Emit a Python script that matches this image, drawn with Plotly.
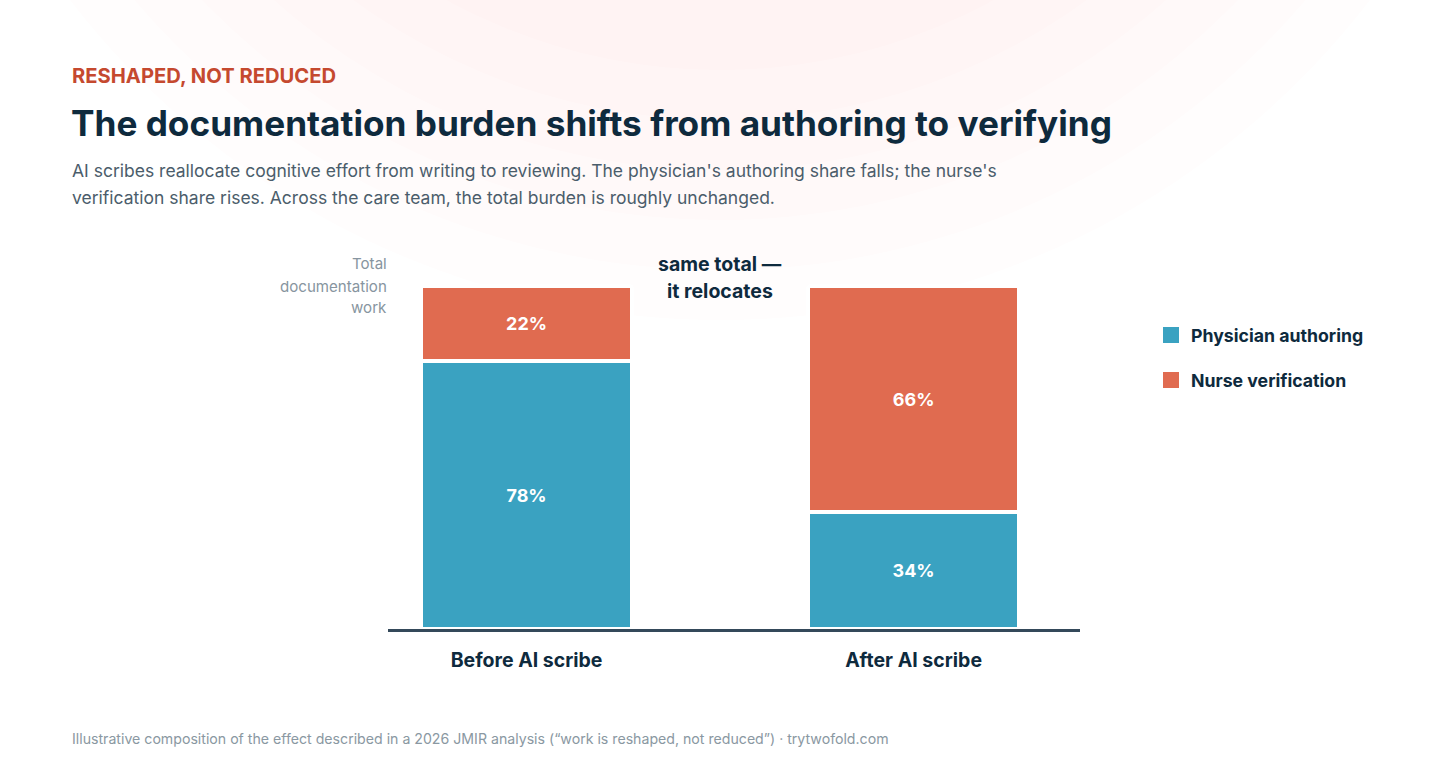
import plotly.graph_objects as go

categories = ["Before AI scribe", "After AI scribe"]
physician_authoring = [78, 34]
nurse_verification = [22, 66]
series_names = ["Physician authoring", "Nurse verification"]

W, H = 1440, 774
BLUE = "#3aa2c1"
ORANGE = "#e06b50"
NAVY = "#0e2a3d"
FONT = "Inter, Liberation Sans, Arial, sans-serif"

def px(x):
    return x / W

def py(y):
    return 1 - y / H

xpos = list(range(len(categories)))

fig = go.Figure()
for name, vals, col in [(series_names[0], physician_authoring, BLUE),
                        (series_names[1], nurse_verification, ORANGE)]:
    fig.add_trace(go.Bar(
        x=xpos, y=vals, name=name, width=0.545,
        marker=dict(color=col, line=dict(color="white", width=4)),
        text=[f"{v}%" for v in vals], textposition="inside",
        insidetextanchor="middle",
        textfont=dict(family=FONT, size=18, color="white", weight="bold"),
        showlegend=False, hoverinfo="skip",
    ))
# legend entries
for i, (name, col) in enumerate([(series_names[0], BLUE), (series_names[1], ORANGE)]):
    fig.add_trace(go.Scatter(
        x=[None], y=[None], mode="markers", name=name, legendgroup=f"g{i}",
        marker=dict(symbol="square", size=16, color=col),
    ))

y_top_px = 250
base_px = 629
ppu = 3.43
fig.update_layout(
    width=W, height=H,
    margin=dict(l=0, r=0, t=0, b=0),
    paper_bgcolor="white", plot_bgcolor="rgba(0,0,0,0)",
    barmode="stack", barcornerradius=3,
    font=dict(family=FONT, color=NAVY),
    xaxis=dict(domain=[px(388), px(1080)], range=[-0.358, 1.43],
               tickvals=xpos, ticktext=categories, showgrid=False, zeroline=False,
               showline=True, linecolor="#34495a", linewidth=2.5, ticks="",
               tickfont=dict(family=FONT, size=19.5, color=NAVY, weight="bold"),
               ticklabelstandoff=12, fixedrange=True),
    yaxis=dict(domain=[py(base_px), py(y_top_px)], range=[0, (base_px - y_top_px) / ppu],
               showgrid=False, zeroline=False, showticklabels=False, showline=False,
               fixedrange=True),
    legend=dict(x=px(1151), y=py(317), xanchor="left", yanchor="top",
                font=dict(family=FONT, size=17.7, color=NAVY, weight="bold"),
                itemsizing="trace", tracegroupgap=19, bgcolor="rgba(0,0,0,0)",
                traceorder="grouped"),
    showlegend=True,
)

# faint radial glow background
shapes = []
cx, cy = 720, -500
for r, a in [(820, 0.012), (770, 0.012), (720, 0.012), (670, 0.012), (620, 0.012), (570, 0.012)]:
    shapes.append(dict(type="circle", xref="paper", yref="paper", layer="below",
                       x0=px(cx - r), x1=px(cx + r), y0=py(cy + r), y1=py(cy - r),
                       fillcolor=f"rgba(235,120,85,{a})", line=dict(width=0)))
fig.update_layout(shapes=shapes)

def ann(text, x, y, size, color, bold=False, xanchor="left"):
    fig.add_annotation(text=text, x=px(x), y=py(y), xref="paper", yref="paper",
                       xanchor=xanchor, yanchor="middle", showarrow=False,
                       font=dict(family=FONT, size=size, color=color,
                                 weight="bold" if bold else "normal"))

ann("RESHAPED, NOT REDUCED", 70, 76, 20.2, "#c5492f", bold=True)
ann("The documentation burden shifts from authoring to verifying", 69, 123, 35.2, NAVY, bold=True)
ann("AI scribes reallocate cognitive effort from writing to reviewing. The physician's authoring share falls; the nurse's",
    70, 171, 17.5, "#4b5d6b")
ann("verification share rises. Across the care team, the total burden is roughly unchanged.",
    70, 197, 17.5, "#4b5d6b")
for t, y in [("Total", 264), ("documentation", 286), ("work", 307)]:
    ann(t, 389, y, 15.1, "#8795a0", xanchor="right")
ann("same total —", 720, 264, 19.5, NAVY, bold=True, xanchor="center")
ann("it relocates", 720, 291, 19.5, NAVY, bold=True, xanchor="center")
ann("Illustrative composition of the effect described in a 2026 JMIR analysis (“work is reshaped, not reduced”) · trytwofold.com",
    70, 738, 14.15, "#8a98a2")

fig.write_html("out.html")
